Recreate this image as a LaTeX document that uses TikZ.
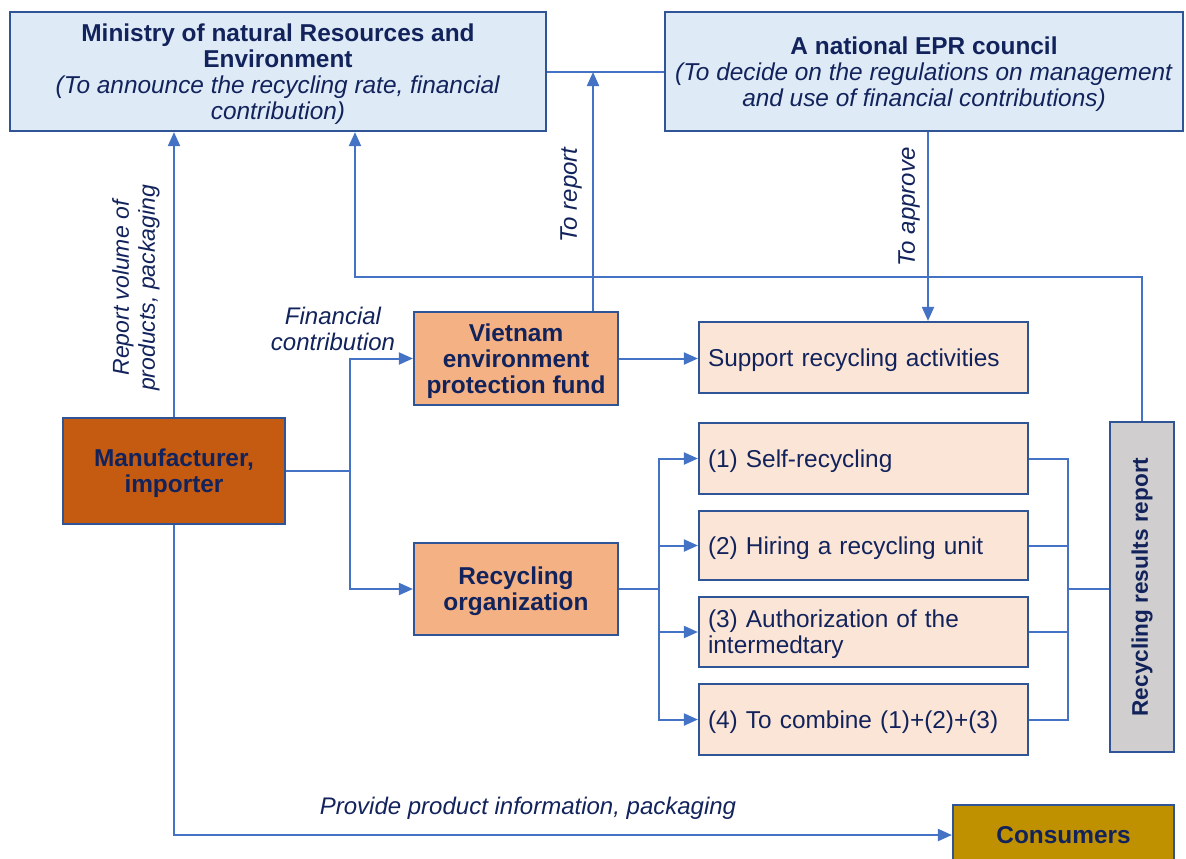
\documentclass[tikz,border=0pt]{standalone}
\usepackage{fontspec}
\setmainfont{Liberation Sans}
\usetikzlibrary{arrows.meta}
\definecolor{txt}{HTML}{12235C}
\definecolor{wire}{HTML}{4472C4}
\definecolor{edge}{HTML}{2F5597}
\definecolor{govfill}{HTML}{DEEAF6}
\definecolor{manufill}{HTML}{C55A11}
\definecolor{orgfill}{HTML}{F4B183}
\definecolor{optfill}{HTML}{FBE5D6}
\definecolor{repfill}{HTML}{D0CECE}
\definecolor{consfill}{HTML}{BF9000}
\tikzset{
  box/.style={draw=edge, line width=1.1pt, text=txt, align=center, inner sep=2pt,
    text depth=0pt, font=\fontsize{12.2}{13}\selectfont},
  gov/.style={box, fill=govfill},
  org/.style={box, fill=orgfill, font=\fontsize{12.2}{13}\selectfont\bfseries},
  opt/.style={box, fill=optfill, align=left, inner xsep=4.5pt},
  lbl/.style={text=txt, align=center, inner sep=0pt, font=\fontsize{12}{13}\selectfont\itshape},
  wireline/.style={draw=wire, line width=1pt},
  arr/.style={wireline, -{Triangle[length=7pt,width=6pt]}},
}
\begin{document}
\begin{tikzpicture}[x=0.5pt, y=-0.5pt]
\useasboundingbox (0,0) rectangle (1186,858);

% top level bodies
\node[gov, minimum width=268pt, minimum height=59.5pt] (min) at (278,71.5)
  {\textbf{Ministry of natural Resources and}\\ \textbf{Environment}\\
   \textit{(To announce the recycling rate, financial}\\ \textit{contribution)}};
\node[gov, minimum width=259pt, minimum height=59.5pt] (epr) at (924,71.5)
  {\textbf{A national EPR council}\\
   \textit{(To decide on the regulations on management}\\ \textit{and use of financial contributions)}};

% actors
\node[org, fill=manufill, minimum width=111pt, minimum height=53pt] (manu) at (174,471)
  {Manufacturer,\\ importer};
\node[org, minimum width=102pt, minimum height=46.5pt] (fund) at (516,358.5)
  {Vietnam\\ environment\\ protection fund};
\node[org, minimum width=102pt, minimum height=46pt] (rorg) at (516,589)
  {Recycling\\ organization};

% activities and recycling options
\node[opt, text width=155.5pt, minimum height=35.5pt] (sup) at (863.5,357.5)
  {Support recycling activities};
\node[opt, text width=155.5pt, minimum height=35.5pt] (o1) at (863.5,458.5)
  {(1) Self-recycling};
\node[opt, text width=155.5pt, minimum height=34.5pt] (o2) at (863.5,545.5)
  {(2) Hiring a recycling unit};
\node[opt, text width=155.5pt, minimum height=35pt, text depth=13pt] (o3) at (863.5,632)
  {(3) Authorization of the\\ intermedtary};
\node[opt, text width=155.5pt, minimum height=35.5pt] (o4) at (863.5,719.5)
  {(4) To combine (1)+(2)+(3)};

\node[box, fill=repfill, minimum width=32pt, minimum height=165pt] (rrr) at (1142,587) {};
\node[text=txt, rotate=90, font=\fontsize{11.3}{13}\selectfont\bfseries] (rrrt) at (rrr.center)
  {Recycling results report};

\node[org, fill=consfill, minimum width=110.5pt, minimum height=30pt] (cons) at (1063.5,835)
  {Consumers};

% junction points
\coordinate (rep) at (593,72);
\coordinate (apx) at (928,0);
\coordinate (back) at (355,277);
\coordinate (fj) at (350,471);
\coordinate (rj) at (659,589);
\coordinate (cj) at (1068,589);

% connectors
\draw[wireline] (min.east) -- (epr.west);
\draw[arr] (fund.north -| rep) -- (rep);
\draw[arr] (epr.south -| apx) -- (sup.north -| apx);
\draw[arr] (rrr.north) |- (back) -- (min.south -| back);
\draw[arr] (manu.north) -- (min.south -| manu.north);
\draw[wireline] (manu.east) -- (fj);
\draw[arr] (fj) |- (fund.west);
\draw[arr] (fj) |- (rorg.west);
\draw[arr] (fund.east) -- (sup.west |- fund.east);
\draw[wireline] (rorg.east) -- (rj);
\foreach \o in {o1,o2,o3,o4}{
  \draw[arr] (rj) |- (\o.west);
  \draw[wireline] (\o.east) -| (cj);
}
\draw[wireline] (cj) -- (rrr.west |- cj);
\draw[arr] (manu.south) |- (cons.west);

% connector labels
\node[lbl, rotate=90] (lrep) at (571,195) {To report};
\node[lbl, rotate=90] (lapp) at (909,207) {To approve};
\node[lbl, rotate=90, font=\fontsize{11.5}{13}\selectfont\itshape] (lvol) at (136,288) {Report volume of\\ products, packaging};
\node[lbl] (lfin) at (333,329) {Financial\\ contribution};
\node[lbl] (lprov) at (528,808) {Provide product information, packaging};
\end{tikzpicture}
\end{document}
